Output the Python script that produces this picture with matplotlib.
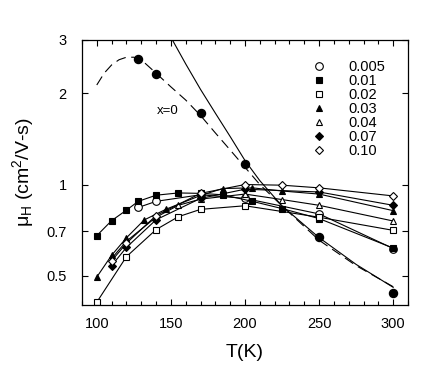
import matplotlib
matplotlib.use("Agg")
import matplotlib.pyplot as plt
from matplotlib.ticker import FixedLocator, MultipleLocator, NullLocator, NullFormatter

plt.rcParams['font.family'] = ['Liberation Sans', 'DejaVu Sans']
plt.rcParams['mathtext.fontset'] = 'custom'
plt.rcParams['mathtext.rm'] = 'Liberation Sans'
plt.rcParams['mathtext.it'] = 'Liberation Sans:italic'

# x = 0 sample: measured points and two model curves
t_x0 = [128, 140, 170, 200, 250, 300]
mu_x0 = [2.59, 2.31, 1.72, 1.17, 0.67, 0.438]
t_dash = [100, 105, 110, 115, 120, 125, 130, 140, 150, 160, 170, 180, 190, 200,
          210, 225, 250, 275, 300]
mu_dash = [2.13, 2.33, 2.48, 2.58, 2.63, 2.63, 2.58, 2.33, 2.10, 1.90, 1.69,
           1.48, 1.30, 1.14, 1.00, 0.85, 0.655, 0.54, 0.46]
t_solid = [151, 160, 170, 180, 190, 200, 210, 225, 250, 275, 300]
mu_solid = [3.0, 2.5, 2.06, 1.72, 1.44, 1.2, 1.03, 0.85, 0.668, 0.545, 0.458]

# doped samples
t_005 = [128, 140, 170, 200, 250, 300]
mu_005 = [0.84, 0.88, 0.925, 0.90, 0.80, 0.615]
t_01 = [100, 110, 120, 128, 140, 155, 170, 185, 205, 225, 250, 300]
mu_01 = [0.678, 0.76, 0.823, 0.88, 0.922, 0.938, 0.935, 0.925, 0.88, 0.833, 0.772, 0.617]
t_02 = [100, 120, 140, 155, 170, 200, 250, 300]
mu_02 = [0.409, 0.578, 0.71, 0.783, 0.828, 0.851, 0.78, 0.706]
t_03 = [100, 110, 120, 132, 147, 170, 185, 205, 225, 250, 300]
mu_03 = [0.495, 0.584, 0.667, 0.764, 0.83, 0.92, 0.97, 0.975, 0.952, 0.93, 0.82]
t_04 = [110, 120, 140, 155, 170, 200, 225, 250, 300]
mu_04 = [0.57, 0.65, 0.78, 0.854, 0.895, 0.93, 0.892, 0.854, 0.758]
t_07 = [110, 120, 140, 170, 200, 250, 300]
mu_07 = [0.54, 0.62, 0.765, 0.90, 0.965, 0.945, 0.854]
t_10 = [110, 120, 140, 170, 200, 225, 250, 300]
mu_10 = [0.56, 0.64, 0.79, 0.935, 1.0, 0.995, 0.975, 0.917]

labels = ['0.005', '0.01', '0.02', '0.03', '0.04', '0.07', '0.10']
series = [(t_005, mu_005, 'o', 'white'),
          (t_01, mu_01, 's', 'black'),
          (t_02, mu_02, 's', 'white'),
          (t_03, mu_03, '^', 'black'),
          (t_04, mu_04, '^', 'white'),
          (t_07, mu_07, 'D', 'black'),
          (t_10, mu_10, 'D', 'white')]
sizes = {'o': 5.5, 's': 4.5, '^': 5.0, 'D': 4.5}

fig = plt.figure(figsize=(4.43, 3.8), dpi=100)
ax = fig.add_axes([0.185, 0.197, 0.736, 0.698])

ax.plot(t_dash, mu_dash, color='black', lw=0.8, dashes=(9, 5))
ax.plot(t_solid, mu_solid, color='black', lw=0.8)
ax.plot(t_x0, mu_x0, 'o', color='black', ms=5.8, ls='none')

for (t, mu, m, fc), lab in zip(series, labels):
    ax.plot(t, mu, color='black', lw=0.8, marker=m, mfc=fc, mec='black',
            mew=0.8, ms=sizes[m], label=lab)

ax.text(148, 1.75, 'x=0', fontsize=9.5, ha='center', va='center')

ax.set_yscale('log')
ax.set_xlim(90, 310)
ax.set_ylim(0.4, 3)
ax.yaxis.set_major_locator(FixedLocator([0.5, 0.7, 1, 2, 3]))
ax.yaxis.set_minor_locator(NullLocator())
ax.yaxis.set_minor_formatter(NullFormatter())
ax.set_yticklabels(['0.5', '0.7', '1', '2', '3'])
ax.xaxis.set_major_locator(MultipleLocator(50))
ax.xaxis.set_minor_locator(MultipleLocator(10))
ax.tick_params(which='both', direction='in', top=True, right=True,
               labelsize=10.5, width=0.8)
ax.tick_params(which='major', length=4)
ax.tick_params(which='minor', length=3)
ax.tick_params(axis='x', pad=8.5)
ax.tick_params(axis='y', pad=11)
for s in ax.spines.values():
    s.set_linewidth(0.9)

ax.set_xlabel('T(K)', fontsize=14)
ax.set_ylabel('μ$_\\mathrm{H}$ (cm$^2$/V-s)', fontsize=14)
ax.xaxis.set_label_coords(0.5, -0.145)
ax.yaxis.set_label_coords(-0.142, 0.5)

leg = ax.legend(loc='upper right', frameon=False, fontsize=10.5,
                handlelength=0.8, handletextpad=1.6, labelspacing=0.0,
                bbox_to_anchor=(0.97, 0.975))
for h in leg.get_lines():
    h.set_linestyle('none')

fig.savefig('out.png', dpi=100)
